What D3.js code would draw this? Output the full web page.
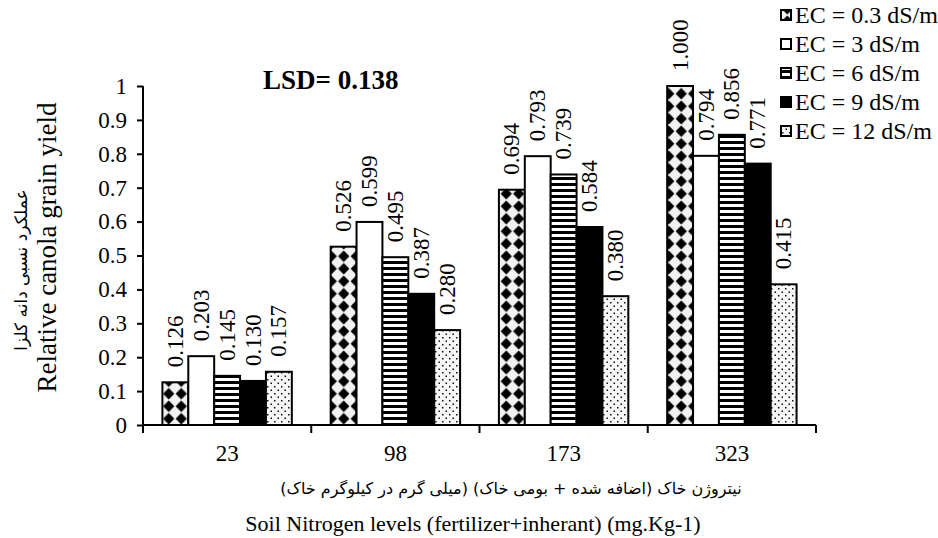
<!DOCTYPE html>
<html>
<head>
<meta charset="utf-8">
<script src="https://cdn.jsdelivr.net/npm/d3@7"></script>
<style>
  html, body { margin: 0; padding: 0; background: #fff; }
  svg { display: block; }
</style>
</head>
<body>
<svg id="chart" width="938" height="538"></svg>
<script>
// Nitrogen levels (mg/kg) on the category axis
const categories = ["23", "98", "173", "323"];
// Salinity treatments
const seriesNames = ["EC = 0.3 dS/m", "EC = 3 dS/m", "EC = 6 dS/m", "EC = 9 dS/m", "EC = 12 dS/m"];
// Relative canola grain yield per treatment, one value per nitrogen level
const ec03 = [0.126, 0.526, 0.694, 1.000];
const ec3  = [0.203, 0.599, 0.793, 0.794];
const ec6  = [0.145, 0.495, 0.739, 0.856];
const ec9  = [0.130, 0.387, 0.584, 0.771];
const ec12 = [0.157, 0.280, 0.380, 0.415];
const yTicks = [0, 0.1, 0.2, 0.3, 0.4, 0.5, 0.6, 0.7, 0.8, 0.9, 1];
const lsdText = "LSD= 0.138";
const yTitleFa = "عملکرد نسبی دانه کلزا";
const yTitleEn = "Relative canola grain yield";
const xTitleFa = "نیتروژن خاک (اضافه شده + بومی خاک) (میلی گرم در کیلوگرم خاک)";
const xTitleEn = "Soil Nitrogen levels (fertilizer+inherant) (mg.Kg-1)";

const seriesValues = [ec03, ec3, ec6, ec9, ec12];
const fillIds = ["p-diamond", "p-white", "p-hstripe", "p-black", "p-dots"];

const SERIF = '"Liberation Serif", "Times New Roman", serif';
const FA = '"DejaVu Sans", sans-serif';

const svg = d3.select("#chart");

// ---------- fill patterns ----------
const defs = svg.append("defs");

// black diamonds on a light ground
const pd = defs.append("pattern").attr("id", "p-diamond")
  .attr("patternUnits", "userSpaceOnUse").attr("width", 12.5).attr("height", 12.5);
pd.append("rect").attr("width", 12.5).attr("height", 12.5).attr("fill", "#f2f2f2");
pd.append("path").attr("fill", "#000")
  .attr("d", "M6.25,0.6 L11.9,6.25 L6.25,11.9 L0.6,6.25 Z");

defs.append("pattern").attr("id", "p-white")
  .attr("patternUnits", "userSpaceOnUse").attr("width", 4).attr("height", 4)
  .append("rect").attr("width", 4).attr("height", 4).attr("fill", "#fff");

const ph = defs.append("pattern").attr("id", "p-hstripe")
  .attr("patternUnits", "userSpaceOnUse").attr("width", 6).attr("height", 6);
ph.append("rect").attr("width", 6).attr("height", 6).attr("fill", "#fff");
ph.append("rect").attr("y", 3).attr("width", 6).attr("height", 3).attr("fill", "#000");

defs.append("pattern").attr("id", "p-black")
  .attr("patternUnits", "userSpaceOnUse").attr("width", 4).attr("height", 4)
  .append("rect").attr("width", 4).attr("height", 4).attr("fill", "#000");

const pdot = defs.append("pattern").attr("id", "p-dots")
  .attr("patternUnits", "userSpaceOnUse").attr("width", 7).attr("height", 7);
pdot.append("rect").attr("width", 7).attr("height", 7).attr("fill", "#f6f6f6");
pdot.append("rect").attr("x", 1).attr("y", 1).attr("width", 1.5).attr("height", 1.5).attr("fill", "#111");
pdot.append("rect").attr("x", 4.5).attr("y", 4.5).attr("width", 1.5).attr("height", 1.5).attr("fill", "#111");

// ---------- scales ----------
const plot = { left: 143, right: 816, top: 86, bottom: 425 };

const x0 = d3.scaleBand().domain(categories).range([plot.left, plot.right]).padding(0);
const x1 = d3.scaleBand().domain(d3.range(seriesNames.length))
  .range([0, x0.bandwidth()]).paddingInner(0).paddingOuter(0.75);
const y = d3.scaleLinear().domain([0, 1]).range([plot.bottom, plot.top]);

// ---------- bars ----------
const barData = [];
seriesValues.forEach((vals, s) => vals.forEach((v, c) => barData.push({ s, c, v })));

svg.append("g").selectAll("rect").data(barData).join("rect")
  .attr("x", d => x0(categories[d.c]) + x1(d.s))
  .attr("y", d => y(d.v))
  .attr("width", x1.bandwidth())
  .attr("height", d => y(0) - y(d.v))
  .attr("fill", d => `url(#${fillIds[d.s]})`)
  .attr("stroke", "#000").attr("stroke-width", 2);

// value labels, rotated
const fmt = d3.format(".3f");
svg.append("g").selectAll("text").data(barData).join("text")
  .style("font-family", SERIF).style("font-size", "23px").attr("fill", "#000")
  .attr("text-anchor", "start")
  .attr("transform", d => {
    const cx = x0(categories[d.c]) + x1(d.s) + x1.bandwidth() / 2;
    return `translate(${cx},${y(d.v) - 15}) rotate(-90)`;
  })
  .attr("dy", "0.33em")
  .text(d => fmt(d.v));

// ---------- axes ----------
const yAxis = d3.axisLeft(y).tickValues(yTicks).tickSize(6).tickPadding(10)
  .tickFormat(d3.format("~g"));
const gy = svg.append("g").attr("transform", `translate(${plot.left},0)`).call(yAxis);
gy.select(".domain").attr("stroke", "#000").attr("stroke-width", 2)
  .attr("d", `M0,${plot.bottom}V${plot.top}`);
gy.selectAll(".tick line").attr("stroke", "#000").attr("stroke-width", 2);
gy.selectAll(".tick text").style("font-family", SERIF).style("font-size", "23px")
  .attr("fill", "#000");

const xAxis = d3.axisBottom(x0).tickSize(0).tickPadding(20);
const gx = svg.append("g").attr("transform", `translate(0,${plot.bottom})`).call(xAxis);
gx.select(".domain").attr("stroke", "#000").attr("stroke-width", 2)
  .attr("d", `M${plot.left},0H${plot.right}`);
gx.selectAll(".tick text").style("font-family", SERIF).style("font-size", "23px").attr("fill", "#000");
// category separators below the axis
const edges = categories.map(c => x0(c)).concat([x0.range()[1]]);
gx.append("g").selectAll("line").data(edges).join("line")
  .attr("x1", d => d).attr("x2", d => d).attr("y1", 0).attr("y2", 8)
  .attr("stroke", "#000").attr("stroke-width", 2);

// ---------- titles ----------
svg.append("text")
  .style("font-family", SERIF).style("font-size", "27px").style("font-weight", "bold")
  .attr("x", 263).attr("y", 89)
  .text(lsdText);

svg.append("text")
  .style("font-family", SERIF).style("font-size", "27px").attr("text-anchor", "middle")
  .attr("transform", `translate(56,${(plot.top + plot.bottom) / 2 - 8}) rotate(-90)`)
  .text(yTitleEn);

svg.append("text")
  .style("font-family", FA).style("font-size", "17px").attr("text-anchor", "middle")
  .attr("direction", "rtl").style("unicode-bidi", "embed")
  .attr("transform", `translate(27,270) rotate(-90)`)
  .text(yTitleFa);

svg.append("text")
  .style("font-family", FA).style("font-size", "16px").attr("text-anchor", "middle")
  .attr("direction", "rtl").style("unicode-bidi", "embed")
  .attr("x", 511).attr("y", 494)
  .text(xTitleFa);

svg.append("text")
  .style("font-family", SERIF).style("font-size", "22px").attr("text-anchor", "middle")
  .attr("x", 473).attr("y", 531)
  .text(xTitleEn);

// ---------- legend ----------
const legend = svg.append("g").attr("transform", "translate(781,0)");
const rows = legend.selectAll("g").data(seriesNames).join("g")
  .attr("transform", (d, i) => `translate(0,${15 + i * 29})`);
rows.append("rect").attr("x", 0).attr("y", -5).attr("width", 10).attr("height", 10)
  .attr("fill", (d, i) => `url(#${fillIds[i]})`).attr("stroke", "#000").attr("stroke-width", 2);
rows.append("text").style("font-family", SERIF).style("font-size", "24px").attr("fill", "#000")
  .attr("x", 14).attr("dy", "0.35em").text(d => d);
</script>
</body>
</html>
